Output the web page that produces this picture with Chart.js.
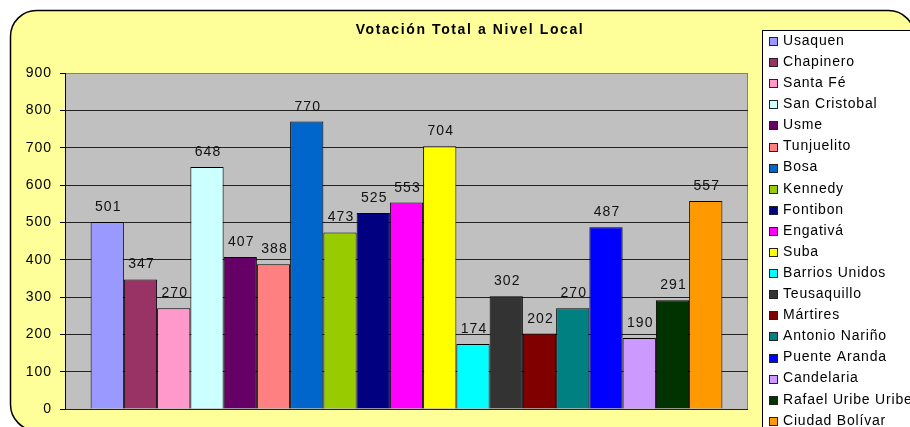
<!DOCTYPE html>
<html lang="es">
<head>
<meta charset="UTF-8">
<title>Votación Total a Nivel Local</title>
<script src="https://cdn.jsdelivr.net/npm/chart.js"></script>
<style>
  html, body { margin: 0; padding: 0; background: #fff; overflow: hidden; }
  #wrap { width: 910px; height: 427px; }
</style>
</head>
<body>
<div id="wrap"><canvas id="votosChart" width="910" height="427"></canvas></div>
<script>
// datos
const titulo = "Votación Total a Nivel Local";
const localidades = [
  "Usaquen", "Chapinero", "Santa Fé", "San Cristobal", "Usme", "Tunjuelito",
  "Bosa", "Kennedy", "Fontibon", "Engativá", "Suba", "Barrios Unidos",
  "Teusaquillo", "Mártires", "Antonio Nariño", "Puente Aranda", "Candelaria",
  "Rafael Uribe Uribe", "Ciudad Bolívar"
];
const votos = [501, 347, 270, 648, 407, 388, 770, 473, 525, 553, 704, 174, 302, 202, 270, 487, 190, 291, 557];
const colores = [
  "#9999FF", "#993366", "#FF99CC", "#CCFFFF", "#660066", "#FF8080",
  "#0066CC", "#99CC00", "#000080", "#FF00FF", "#FFFF00", "#00FFFF",
  "#333333", "#800000", "#008080", "#0000FF", "#CC99FF",
  "#003300", "#FF9900"
];
const yMax = 900;
const yPaso = 100;

const FONT = '"Liberation Sans", Arial, sans-serif';

// fondo amarillo redondeado, area gris y titulo
const fondoPlugin = {
  id: "fondo",
  beforeDraw(chart) {
    const ctx = chart.ctx;
    const a = chart.chartArea;
    ctx.letterSpacing = "1px";
    ctx.save();
    ctx.fillStyle = "#fff";
    ctx.fillRect(0, 0, chart.width, chart.height);
    ctx.beginPath();
    ctx.roundRect(10.5, 10.5, 904, 420, 26);
    ctx.fillStyle = "#FFFF99";
    ctx.fill();
    ctx.lineWidth = 1.5;
    ctx.strokeStyle = "#000";
    ctx.stroke();
    ctx.fillStyle = "#C0C0C0";
    ctx.fillRect(a.left, a.top, a.right - a.left, a.bottom - a.top);
    ctx.strokeStyle = "#808080";
    ctx.lineWidth = 1;
    ctx.strokeRect(a.left + 0.5, a.top + 0.5, a.right - a.left - 1, a.bottom - a.top);
    ctx.letterSpacing = "1.6px";
    ctx.font = "bold 14px " + FONT;
    ctx.fillStyle = "#000";
    ctx.textAlign = "center";
    ctx.textBaseline = "middle";
    ctx.fillText(titulo, 470, 30);
    ctx.restore();
  }
};

// valores encima de cada barra
const etiquetasPlugin = {
  id: "etiquetas",
  afterDatasetsDraw(chart) {
    const ctx = chart.ctx;
    ctx.save();
    ctx.font = "14px " + FONT;
    ctx.fillStyle = "#111";
    ctx.textAlign = "center";
    ctx.textBaseline = "alphabetic";
    chart.data.datasets.forEach((ds, i) => {
      const bar = chart.getDatasetMeta(i).data[0];
      ctx.fillText(String(ds.data[0]), bar.x + 1, bar.y - 11);
    });
    ctx.restore();
  }
};

// leyenda a la derecha (recortada como en el original)
const leyendaPlugin = {
  id: "leyenda",
  afterDraw(chart) {
    const ctx = chart.ctx;
    ctx.save();
    ctx.fillStyle = "#fff";
    ctx.fillRect(762, 30, 200, 420);
    ctx.strokeStyle = "#000";
    ctx.lineWidth = 1;
    ctx.strokeRect(762.5, 30.5, 200, 420);
    ctx.font = "14px " + FONT;
    ctx.letterSpacing = "0.8px";
    ctx.textBaseline = "middle";
    chart.data.datasets.forEach((ds, i) => {
      const y = 41 + i * 21.1;
      ctx.fillStyle = ds.backgroundColor;
      ctx.fillRect(769, Math.round(y - 4), 9, 9);
      ctx.strokeStyle = "#222";
      ctx.strokeRect(769.5, Math.round(y - 4) + 0.5, 8, 8);
      ctx.fillStyle = "#000";
      ctx.fillText(ds.label, 783, y);
    });
    ctx.restore();
  }
};

new Chart(document.getElementById("votosChart"), {
  type: "bar",
  data: {
    labels: [""],
    datasets: localidades.map((nombre, i) => ({
      label: nombre,
      data: [votos[i]],
      backgroundColor: colores[i],
      borderColor: "#000",
      borderWidth: 1,
      categoryPercentage: 0.925,
      barPercentage: 1
    }))
  },
  options: {
    responsive: false,
    animation: false,
    devicePixelRatio: 1,
    layout: { padding: { top: 73, right: 162, bottom: 18, left: 0 } },
    plugins: {
      legend: { display: false },
      title: { display: false },
      tooltip: { enabled: false }
    },
    scales: {
      x: { display: false },
      y: {
        min: 0,
        max: yMax,
        afterFit(s) { s.width = 65; },
        ticks: {
          stepSize: yPaso,
          padding: 8,
          color: "#000",
          font: { size: 14, family: FONT }
        },
        grid: {
          color: (c) => (c.tick && c.tick.value === yMax ? "#808080" : "#222"),
          tickColor: "#000",
          tickLength: 5,
          lineWidth: 1
        },
        border: { display: true, color: "#000", width: 1 }
      }
    }
  },
  plugins: [fondoPlugin, etiquetasPlugin, leyendaPlugin]
});
</script>
</body>
</html>
